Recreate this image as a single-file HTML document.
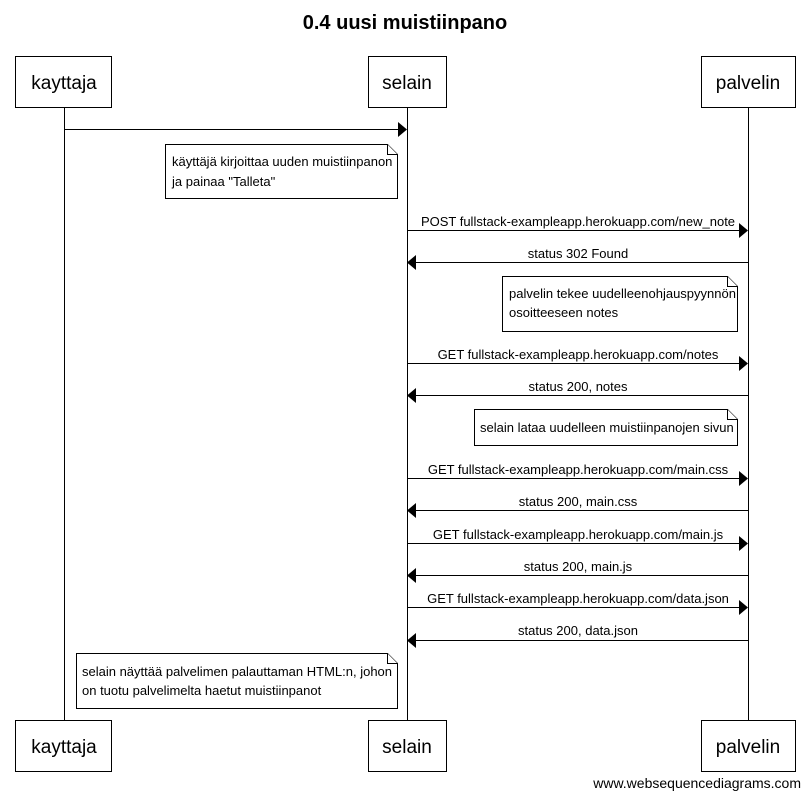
<!DOCTYPE html>
<html><head><meta charset="utf-8"><style>
html,body{margin:0;padding:0;background:#fff;}
svg{display:block;font-family:"Liberation Sans",Arial,sans-serif;}
</style></head><body>
<svg width="809" height="799" viewBox="0 0 809 799" xmlns="http://www.w3.org/2000/svg">
<rect width="809" height="799" fill="#fff"/>
<text x="405" y="29" text-anchor="middle" font-size="20" font-weight="bold">0.4 uusi muistiinpano</text>
<g stroke="#000" stroke-width="1" fill="none">
<line x1="64.5" y1="107" x2="64.5" y2="720"/>
<line x1="407.5" y1="107" x2="407.5" y2="720"/>
<line x1="748.5" y1="107" x2="748.5" y2="720"/>
</g>
<g stroke="#000" stroke-width="1" fill="#fff">
<rect x="15.5" y="56.5" width="96" height="51"/>
<rect x="368.5" y="56.5" width="78" height="51"/>
<rect x="701.5" y="56.5" width="94" height="51"/>
<rect x="15.5" y="720.5" width="96" height="51"/>
<rect x="368.5" y="720.5" width="78" height="51"/>
<rect x="701.5" y="720.5" width="94" height="51"/>
</g>
<g font-size="19" text-anchor="middle">
<text x="64" y="89">kayttaja</text><text x="407" y="89">selain</text><text x="748" y="89">palvelin</text>
<text x="64" y="753">kayttaja</text><text x="407" y="753">selain</text><text x="748" y="753">palvelin</text>
</g>
<g stroke="#000" stroke-width="1">
<line x1="64" y1="129.5" x2="400" y2="129.5"/>
<line x1="407" y1="230.5" x2="741" y2="230.5"/>
<line x1="414" y1="262.5" x2="748" y2="262.5"/>
<line x1="407" y1="363.5" x2="741" y2="363.5"/>
<line x1="414" y1="395.5" x2="748" y2="395.5"/>
<line x1="407" y1="478.5" x2="741" y2="478.5"/>
<line x1="414" y1="510.5" x2="748" y2="510.5"/>
<line x1="407" y1="543.5" x2="741" y2="543.5"/>
<line x1="414" y1="575.5" x2="748" y2="575.5"/>
<line x1="407" y1="607.5" x2="741" y2="607.5"/>
<line x1="414" y1="640.5" x2="748" y2="640.5"/>
</g>
<g fill="#000">
<polygon points="398,122 407,129.5 398,137"/>
<polygon points="739,223 748,230.5 739,238"/>
<polygon points="416,255 407,262.5 416,270"/>
<polygon points="739,356 748,363.5 739,371"/>
<polygon points="416,388 407,395.5 416,403"/>
<polygon points="739,471 748,478.5 739,486"/>
<polygon points="416,503 407,510.5 416,518"/>
<polygon points="739,536 748,543.5 739,551"/>
<polygon points="416,568 407,575.5 416,583"/>
<polygon points="739,600 748,607.5 739,615"/>
<polygon points="416,633 407,640.5 416,648"/>
</g>
<g font-size="13" text-anchor="middle">
<text x="578" y="226">POST fullstack-exampleapp.herokuapp.com/new_note</text>
<text x="578" y="258">status 302 Found</text>
<text x="578" y="359">GET fullstack-exampleapp.herokuapp.com/notes</text>
<text x="578" y="391">status 200, notes</text>
<text x="578" y="474">GET fullstack-exampleapp.herokuapp.com/main.css</text>
<text x="578" y="506">status 200, main.css</text>
<text x="578" y="539">GET fullstack-exampleapp.herokuapp.com/main.js</text>
<text x="578" y="571">status 200, main.js</text>
<text x="578" y="603">GET fullstack-exampleapp.herokuapp.com/data.json</text>
<text x="578" y="635">status 200, data.json</text>
</g>
<g stroke="#000" stroke-width="1" fill="#fff">
<polygon points="165.5,144.5 387.5,144.5 397.5,154.5 397.5,198.5 165.5,198.5"/>
<polyline points="387.5,144.5 387.5,154.5 397.5,154.5"/>
<polygon points="502.5,276.5 727.5,276.5 737.5,286.5 737.5,331.5 502.5,331.5"/>
<polyline points="727.5,276.5 727.5,286.5 737.5,286.5"/>
<polygon points="474.5,409.5 727.5,409.5 737.5,419.5 737.5,445.5 474.5,445.5"/>
<polyline points="727.5,409.5 727.5,419.5 737.5,419.5"/>
<polygon points="76.5,653.5 387.5,653.5 397.5,663.5 397.5,708.5 76.5,708.5"/>
<polyline points="387.5,653.5 387.5,663.5 397.5,663.5"/>
</g>
<g font-size="13">
<text x="172" y="166">käyttäjä kirjoittaa uuden muistiinpanon</text>
<text x="172" y="186">ja painaa "Talleta"</text>
<text x="509" y="298">palvelin tekee uudelleenohjauspyynnön</text>
<text x="509" y="317">osoitteeseen notes</text>
<text x="480" y="432">selain lataa uudelleen muistiinpanojen sivun</text>
<text x="82" y="676">selain näyttää palvelimen palauttaman HTML:n, johon</text>
<text x="82" y="695">on tuotu palvelimelta haetut muistiinpanot</text>
</g>
<text x="801" y="788" font-size="14" text-anchor="end">www.websequencediagrams.com</text>
</svg>
</body></html>
